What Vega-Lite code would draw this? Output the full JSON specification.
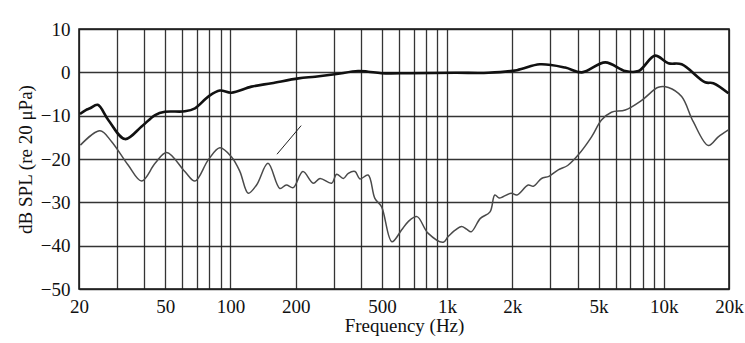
{
  "$schema": "https://vega.github.io/schema/vega-lite/v6.json",
  "width": 650,
  "height": 260,
  "autosize": {"type": "none"},
  "padding": {"left": 79, "top": 29, "right": 16, "bottom": 54},
  "background": "white",
  "config": {
    "view": {"stroke": "#111", "strokeWidth": 1.5},
    "font": "Liberation Serif",
    "axis": {
      "labelFont": "Liberation Serif",
      "titleFont": "Liberation Serif",
      "labelFontSize": 19,
      "titleFontSize": 19,
      "titleFontWeight": "normal",
      "labelColor": "#111",
      "titleColor": "#111",
      "ticks": false,
      "domain": false,
      "grid": true,
      "gridColor": "#1e1e1e",
      "gridWidth": 1.3,
      "gridOpacity": 0.9
    }
  },
  "datasets": {
    "curves": [
      {"f": 20.2, "db": -9.6, "series": "upper"},
      {"f": 21.5, "db": -8.7, "series": "upper"},
      {"f": 22.5, "db": -8.3, "series": "upper"},
      {"f": 24.4, "db": -7.5, "series": "upper"},
      {"f": 27.3, "db": -11.0, "series": "upper"},
      {"f": 32.6, "db": -15.4, "series": "upper"},
      {"f": 38.9, "db": -12.5, "series": "upper"},
      {"f": 44.9, "db": -9.85, "series": "upper"},
      {"f": 49.8, "db": -9.1, "series": "upper"},
      {"f": 61.6, "db": -9.0, "series": "upper"},
      {"f": 68.6, "db": -8.3, "series": "upper"},
      {"f": 79, "db": -5.6, "series": "upper"},
      {"f": 89.4, "db": -4.2, "series": "upper"},
      {"f": 101, "db": -4.7, "series": "upper"},
      {"f": 125, "db": -3.3, "series": "upper"},
      {"f": 155, "db": -2.5, "series": "upper"},
      {"f": 206, "db": -1.4, "series": "upper"},
      {"f": 246, "db": -1.0, "series": "upper"},
      {"f": 303, "db": -0.45, "series": "upper"},
      {"f": 388, "db": 0.3, "series": "upper"},
      {"f": 432, "db": 0.15, "series": "upper"},
      {"f": 498, "db": -0.2, "series": "upper"},
      {"f": 676, "db": -0.2, "series": "upper"},
      {"f": 1090, "db": -0.1, "series": "upper"},
      {"f": 1552, "db": -0.1, "series": "upper"},
      {"f": 2100, "db": 0.5, "series": "upper"},
      {"f": 2680, "db": 1.85, "series": "upper"},
      {"f": 3508, "db": 1.1, "series": "upper"},
      {"f": 4188, "db": 0.0, "series": "upper"},
      {"f": 5370, "db": 2.3, "series": "upper"},
      {"f": 6640, "db": 0.3, "series": "upper"},
      {"f": 7650, "db": 0.3, "series": "upper"},
      {"f": 9112, "db": 3.85, "series": "upper"},
      {"f": 10500, "db": 2.1, "series": "upper"},
      {"f": 12090, "db": 1.85, "series": "upper"},
      {"f": 15520, "db": -2.3, "series": "upper"},
      {"f": 16940, "db": -2.5, "series": "upper"},
      {"f": 19880, "db": -4.85, "series": "upper"},
      {"f": 20.3, "db": -16.8, "series": "lower"},
      {"f": 25, "db": -13.5, "series": "lower"},
      {"f": 28.3, "db": -16.0, "series": "lower"},
      {"f": 33.7, "db": -21.4, "series": "lower"},
      {"f": 38.9, "db": -25.1, "series": "lower"},
      {"f": 44.9, "db": -21.0, "series": "lower"},
      {"f": 50.8, "db": -18.5, "series": "lower"},
      {"f": 61.6, "db": -22.9, "series": "lower"},
      {"f": 68.6, "db": -25.1, "series": "lower"},
      {"f": 79, "db": -20.2, "series": "lower"},
      {"f": 89.4, "db": -17.4, "series": "lower"},
      {"f": 101, "db": -19.5, "series": "lower"},
      {"f": 110.6, "db": -22.9, "series": "lower"},
      {"f": 120.8, "db": -27.9, "series": "lower"},
      {"f": 132, "db": -26.0, "series": "lower"},
      {"f": 149, "db": -21.0, "series": "lower"},
      {"f": 169, "db": -26.8, "series": "lower"},
      {"f": 181, "db": -26.0, "series": "lower"},
      {"f": 195, "db": -26.6, "series": "lower"},
      {"f": 216, "db": -22.9, "series": "lower"},
      {"f": 241, "db": -25.6, "series": "lower"},
      {"f": 259, "db": -24.5, "series": "lower"},
      {"f": 293, "db": -25.6, "series": "lower"},
      {"f": 309, "db": -23.5, "series": "lower"},
      {"f": 332, "db": -24.5, "series": "lower"},
      {"f": 350, "db": -23.3, "series": "lower"},
      {"f": 376, "db": -22.9, "series": "lower"},
      {"f": 396, "db": -24.6, "series": "lower"},
      {"f": 432, "db": -23.7, "series": "lower"},
      {"f": 464, "db": -29.1, "series": "lower"},
      {"f": 498, "db": -31.0, "series": "lower"},
      {"f": 556, "db": -39.1, "series": "lower"},
      {"f": 616, "db": -36.4, "series": "lower"},
      {"f": 660, "db": -34.5, "series": "lower"},
      {"f": 726, "db": -33.3, "series": "lower"},
      {"f": 816, "db": -37.1, "series": "lower"},
      {"f": 960, "db": -39.2, "series": "lower"},
      {"f": 1011, "db": -37.9, "series": "lower"},
      {"f": 1090, "db": -36.4, "series": "lower"},
      {"f": 1166, "db": -35.6, "series": "lower"},
      {"f": 1230, "db": -36.2, "series": "lower"},
      {"f": 1292, "db": -36.8, "series": "lower"},
      {"f": 1424, "db": -33.7, "series": "lower"},
      {"f": 1578, "db": -32.2, "series": "lower"},
      {"f": 1660, "db": -28.3, "series": "lower"},
      {"f": 1740, "db": -29.0, "series": "lower"},
      {"f": 1812, "db": -28.7, "series": "lower"},
      {"f": 1978, "db": -27.9, "series": "lower"},
      {"f": 2100, "db": -28.3, "series": "lower"},
      {"f": 2368, "db": -26.0, "series": "lower"},
      {"f": 2500, "db": -26.3, "series": "lower"},
      {"f": 2728, "db": -24.5, "series": "lower"},
      {"f": 2950, "db": -24.0, "series": "lower"},
      {"f": 3258, "db": -22.5, "series": "lower"},
      {"f": 3600, "db": -21.5, "series": "lower"},
      {"f": 4024, "db": -19.1, "series": "lower"},
      {"f": 4642, "db": -14.9, "series": "lower"},
      {"f": 5158, "db": -11.0, "series": "lower"},
      {"f": 5734, "db": -9.2, "series": "lower"},
      {"f": 6640, "db": -8.7, "series": "lower"},
      {"f": 7938, "db": -6.4, "series": "lower"},
      {"f": 9436, "db": -3.45, "series": "lower"},
      {"f": 10500, "db": -3.5, "series": "lower"},
      {"f": 12090, "db": -5.6, "series": "lower"},
      {"f": 13680, "db": -11.4, "series": "lower"},
      {"f": 16060, "db": -16.9, "series": "lower"},
      {"f": 17840, "db": -14.9, "series": "lower"},
      {"f": 19880, "db": -13.3, "series": "lower"}
    ],
    "pointer": [
      {"f": 164, "db": -18.9},
      {"f": 212, "db": -12.3}
    ]
  },
  "layer": [
    {
      "data": {"name": "curves"},
      "mark": {"type": "line", "interpolate": "catmull-rom"},
      "encoding": {
        "x": {
          "field": "f",
          "type": "quantitative",
          "scale": {"type": "log", "domain": [20, 20000], "nice": false},
          "axis": {
            "values": [20, 30, 40, 50, 60, 70, 80, 90, 100, 200, 300, 400, 500, 600, 700, 800, 900, 1000, 2000, 3000, 4000, 5000, 6000, 7000, 8000, 9000, 10000, 20000],
            "labelExpr": "indexof([20,50,100,200,500,1000,2000,5000,10000,20000], datum.value) >= 0 ? (datum.value >= 1000 ? (datum.value/1000) + 'k' : '' + datum.value) : ''",
            "labelPadding": 8,
            "labelFlush": false,
            "labelOverlap": false,
            "title": "Frequency (Hz)",
            "titlePadding": 0
          }
        },
        "y": {
          "field": "db",
          "type": "quantitative",
          "scale": {"domain": [-50, 10], "nice": false, "zero": false},
          "axis": {
            "values": [-50, -40, -30, -20, -10, 0, 10],
            "labelPadding": 9,
            "title": "dB SPL (re 20 μPa)",
            "titlePadding": 5
          }
        },
        "detail": {"field": "series"},
        "color": {"field": "series", "type": "nominal", "scale": {"domain": ["upper", "lower"], "range": ["#111111", "#4a4a4a"]}, "legend": null},
        "strokeWidth": {"field": "series", "type": "nominal", "scale": {"domain": ["upper", "lower"], "range": [2.6, 1.5]}, "legend": null}
      }
    },
    {
      "data": {"name": "pointer"},
      "mark": {"type": "line", "color": "#222", "strokeWidth": 1},
      "encoding": {
        "x": {"field": "f", "type": "quantitative"},
        "y": {"field": "db", "type": "quantitative"}
      }
    }
  ]
}
